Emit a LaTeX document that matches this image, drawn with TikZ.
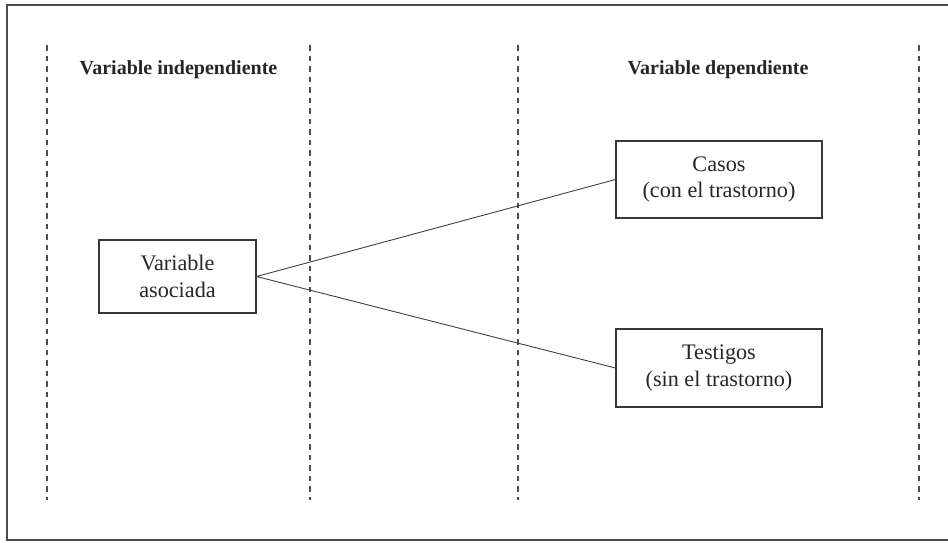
\documentclass[tikz,border=0pt]{standalone}
\usepackage{fontspec}
\setmainfont{Liberation Serif}
\begin{document}
\begin{tikzpicture}[x=1pt,y=-1pt,
  ink/.style={draw=black!78},
  guide/.style={black!70, line width=1.1pt, dash pattern=on 5.5pt off 5pt},
  box/.style={ink, line width=1.1pt, minimum width=#1, align=center,
    font=\fontsize{22.2}{26.5}\selectfont, text=black!85, inner sep=0pt},
  header/.style={font=\fontsize{20}{23}\selectfont\bfseries, text=black!85}]
  \useasboundingbox (0,0) rectangle (948,542);
  % outer frame, open on the right
  \draw[black!70, line width=2pt] (960,5) -- (7,5) -- (7,540) -- (960,540);
  % dashed column separators
  \foreach \gx/\gn in {47/a,310/b,518/c,919/d}
    \draw[guide] (\gx,45) coordinate (top\gn) -- (\gx,500) coordinate (bot\gn);
  % column headings
  \node[header] (hind) at (178.5,70) {Variable independiente};
  \node[header] (hdep) at (718,70) {Variable dependiente};
  % boxes
  \node[box=157pt, minimum height=73pt] (assoc) at (177.5,276.5) {Variable\\asociada};
  \node[box=206pt, minimum height=77pt] (casos) at (719,179.5) {Casos\\(con el trastorno)};
  \node[box=206pt, minimum height=78pt] (test) at (719,368) {Testigos\\(sin el trastorno)};
  % connectors
  \draw[black!75, line width=0.9pt] (casos.west) -- (assoc.east) -- (test.west);
\end{tikzpicture}
\end{document}
